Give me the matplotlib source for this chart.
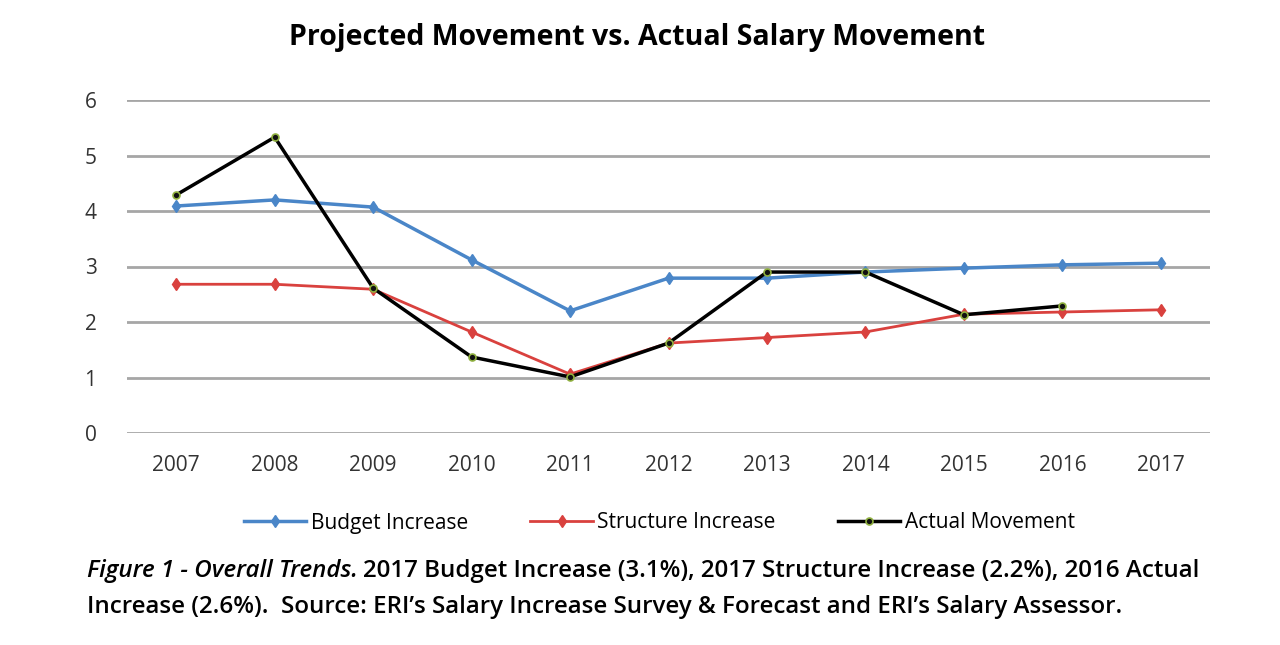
import matplotlib
matplotlib.use("Agg")
from matplotlib import pyplot as plt
from matplotlib import font_manager

years = [2007, 2008, 2009, 2010, 2011, 2012, 2013, 2014, 2015, 2016, 2017]
budget = [4.09, 4.2, 4.07, 3.12, 2.2, 2.79, 2.79, 2.9, 2.97, 3.03, 3.06]
structure = [2.68, 2.68, 2.59, 1.82, 1.06, 1.62, 1.72, 1.82, 2.14, 2.18, 2.22]
actual_years = years[:10]
actual = [4.29, 5.33, 2.61, 1.37, 1.01, 1.62, 2.9, 2.9, 2.13, 2.29]

names = {f.name for f in font_manager.fontManager.ttflist}
font = "Liberation Sans Narrow" if "Liberation Sans Narrow" in names else "Open Sans"
plt.rcParams['font.family'] = [font, 'DejaVu Sans']

fig = plt.figure(figsize=(12.8, 6.45), dpi=100)
ax = fig.add_axes([127 / 1280, 1 - 433 / 645, (1210 - 127) / 1280, (433 - 100) / 645])

ax.plot(years, budget, color='#4a86c8', lw=2.5, marker='d', ms=6,
        label='Budget Increase')
ax.plot(years, structure, color='#d9413e', lw=2, marker='d', ms=6,
        label='Structure Increase')
ax.plot(actual_years, actual, color='black', lw=2.5, marker='o', ms=5,
        mfc='#111111', mec='#8fb03f', mew=1.2, label='Actual Movement')

ax.set_xlim(2006.5, 2017.5)
ax.set_ylim(0, 6)
ax.set_xticks(years)
ax.set_yticks(range(0, 7))
ax.grid(axis='y', color='#a6a6a6', lw=2)
ax.set_axisbelow(True)
for s in ax.spines.values():
    s.set_visible(False)
ax.tick_params(length=0, labelsize=15, colors='#333333')
ax.tick_params(axis='x', pad=16)
ax.tick_params(axis='y', pad=22)

fig.text(0.498, 1 - 38 / 645, 'Projected Movement vs. Actual Salary Movement',
         ha='center', va='center', fontsize=20.5, fontweight='bold')

fig.legend(loc='center', bbox_to_anchor=(0.515, 1 - 523 / 645), ncol=3,
           frameon=False, fontsize=15, handlelength=3, columnspacing=3,
           handletextpad=0.2)

t1 = fig.text(87 / 1280, 1 - 571 / 645, 'Figure 1 - Overall Trends.',
              fontsize=17.4, va='center', style='italic', fontweight='semibold')
fig.canvas.draw()
bb = t1.get_window_extent()
fig.text(bb.x1 / 1280 + 0.004, 1 - 571 / 645,
         '2017 Budget Increase (3.1%), 2017 Structure Increase (2.2%), 2016 Actual',
         fontsize=17.4, va='center', fontweight='semibold')
fig.text(87 / 1280, 1 - 607 / 645,
         'Increase (2.6%).  Source: ERI\u2019s Salary Increase Survey & Forecast and ERI\u2019s Salary Assessor.',
         fontsize=17.4, va='center', fontweight='semibold')

fig.savefig('out.png', dpi=100)
